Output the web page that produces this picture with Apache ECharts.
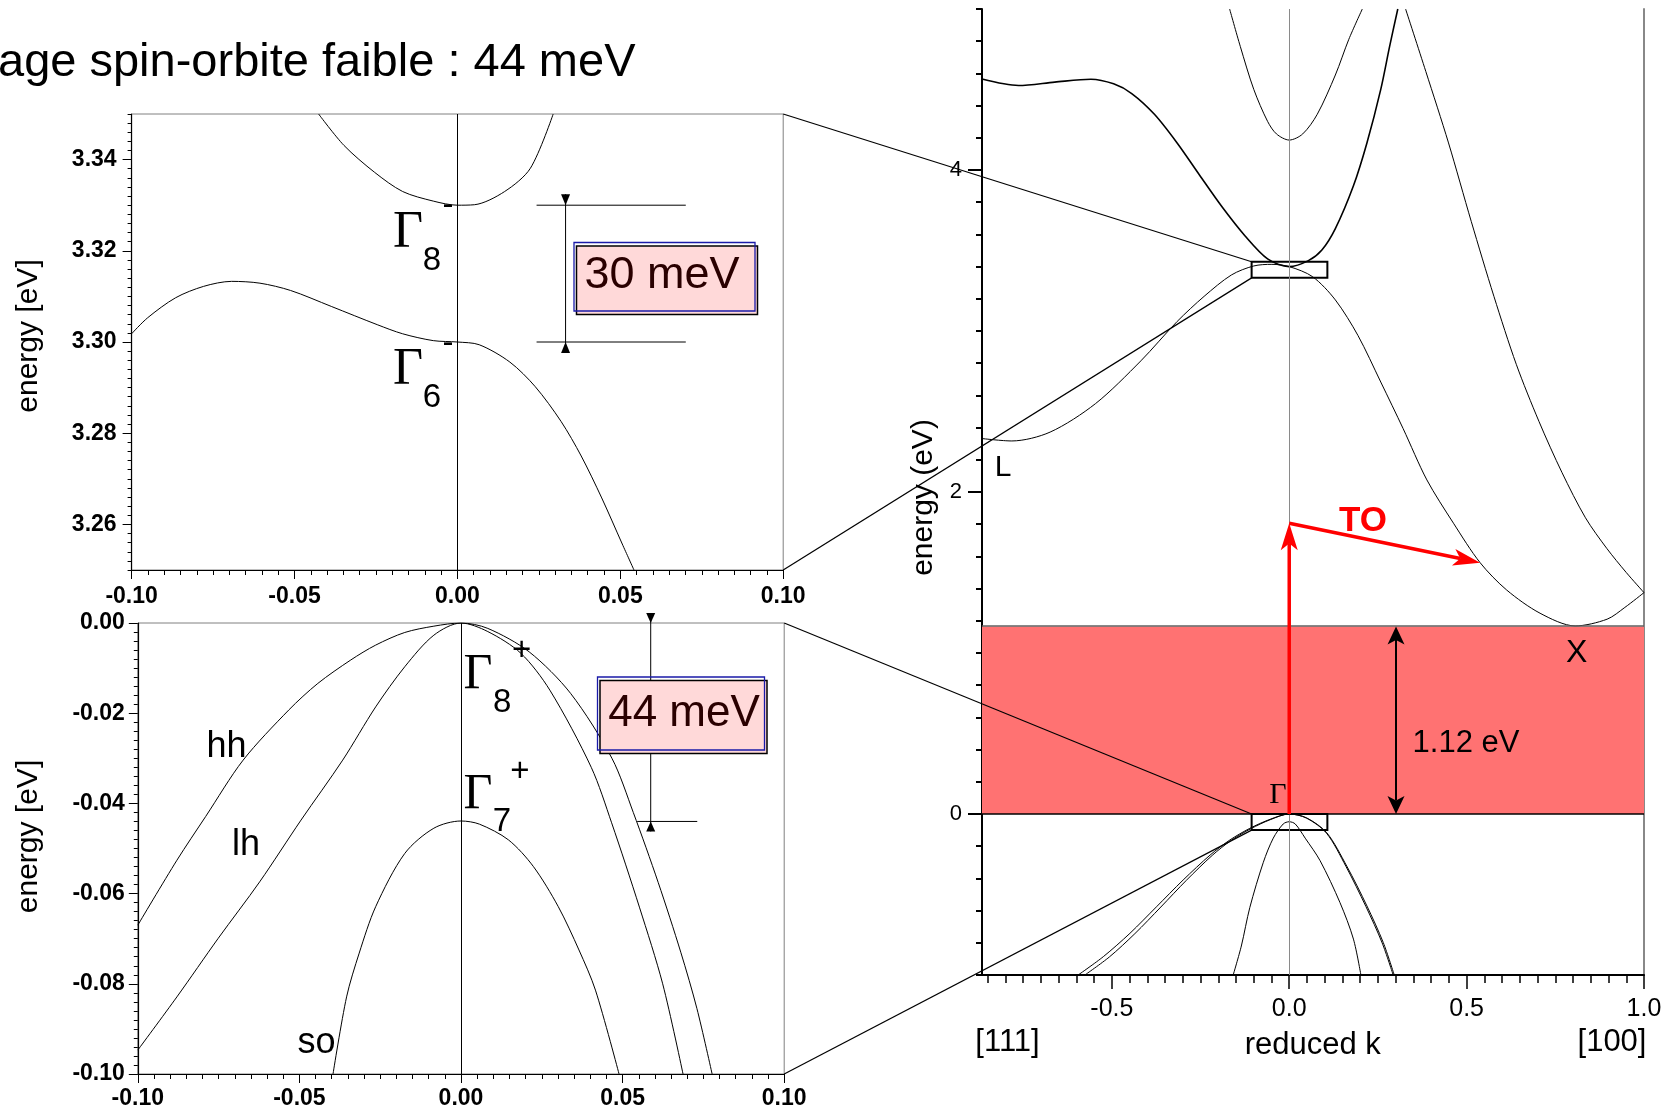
<!DOCTYPE html>
<html><head><meta charset="utf-8">
<script src="https://cdn.jsdelivr.net/npm/echarts@6/dist/echarts.min.js"></script>
<style>html,body{margin:0;padding:0;background:#fff}#c{width:1669px;height:1111px}</style>
</head><body><div id="c"></div>
<script>
// ================= DATA =================
// Top-left zoom: conduction band near Gamma (k in reduced units, E in eV)
const TL_K_G8 = [-0.0426,-0.0348,-0.0254,-0.0168,-0.0074,0,0.0052,0.0145,0.0224,0.0294];
const TL_E_G8 = [3.35,3.3431,3.3372,3.3330,3.3309,3.3300,3.3301,3.3330,3.3381,3.35];
const TL_K_G6 = [-0.1,-0.0951,-0.0865,-0.0779,-0.0693,-0.0606,-0.0512,-0.0387,-0.0246,-0.0168,-0.0074,0,0.0067,0.0161,0.0239,0.0318,0.0380,0.0443,0.0506,0.0542];
const TL_E_G6 = [3.3018,3.3053,3.3097,3.3122,3.3133,3.3129,3.3113,3.3078,3.3038,3.3018,3.3003,3.3000,3.2994,3.2956,3.2902,3.2826,3.2750,3.2658,3.2557,3.25];
const TL_Y_TICKS = [3.26,3.28,3.30,3.32,3.34];

// Bottom-left zoom: valence band near Gamma
const BL_K_HH = [-0.1,-0.0879,-0.0790,-0.0674,-0.0533,-0.0443,-0.0341,-0.0264,-0.0174,-0.0084,0,0.0083,0.0211,0.0339,0.0467,0.0533,0.0610,0.0680,0.0730,0.0777];
const BL_E_HH = [-0.0670,-0.0526,-0.0429,-0.0304,-0.0193,-0.0134,-0.0082,-0.0049,-0.0021,-0.0007,0,-0.0012,-0.0064,-0.0156,-0.0300,-0.0420,-0.0575,-0.0730,-0.0855,-0.1];
const BL_K_LH = [-0.1,-0.0879,-0.0751,-0.0623,-0.0495,-0.0366,-0.0264,-0.0174,-0.0084,0,0.0083,0.0185,0.0275,0.0403,0.0466,0.0552,0.0624,0.0687];
const BL_E_LH = [-0.0947,-0.0829,-0.0699,-0.0574,-0.0437,-0.0304,-0.0186,-0.0097,-0.0027,0,-0.0019,-0.0067,-0.0149,-0.0320,-0.0443,-0.0630,-0.0800,-0.1];
const BL_K_SO = [-0.0396,-0.0354,-0.0315,-0.0264,-0.0174,-0.0084,0,0.0057,0.0147,0.0224,0.0301,0.0365,0.0416,0.0489];
const BL_E_SO = [-0.1,-0.0829,-0.0732,-0.0629,-0.0511,-0.0455,-0.0439,-0.0446,-0.0481,-0.0540,-0.0629,-0.0725,-0.0814,-0.1];

// Right: full band structure of Si ([111] <- Gamma -> [100])
const R_K_A = [-0.866,-0.763,-0.661,-0.559,-0.495,-0.444,-0.380,-0.316,-0.253,-0.189,-0.125,-0.061,0,0.054,0.092,0.130,0.181,0.219,0.258,0.283,0.306];
const R_E_A = [4.565,4.525,4.546,4.564,4.535,4.475,4.346,4.168,3.969,3.770,3.592,3.448,3.400,3.437,3.503,3.636,3.902,4.168,4.501,4.768,5.0];
const R_K_B = [-0.168,-0.138,-0.100,-0.061,-0.036,0,0.038,0.079,0.130,0.168,0.206];
const R_E_B = [5.0,4.768,4.501,4.302,4.224,4.186,4.224,4.346,4.590,4.812,5.0];
const R_K_C = [-0.866,-0.782,-0.674,-0.546,-0.418,-0.316,-0.240,-0.163,-0.100,-0.049,0,0.066,0.130,0.194,0.258,0.321,0.388,0.463,0.538,0.613,0.707,0.806,0.896,0.946,1.0];
const R_E_C = [2.332,2.317,2.372,2.549,2.815,3.059,3.215,3.348,3.404,3.414,3.400,3.337,3.193,2.971,2.683,2.394,2.075,1.806,1.561,1.391,1.247,1.168,1.210,1.283,1.375];
const R_K_D = [0.328,0.385,0.449,0.513,0.577,0.640,0.704,0.769,0.835,0.895,0.950,1.0];
const R_E_D = [5.0,4.612,4.168,3.681,3.215,2.793,2.438,2.120,1.840,1.650,1.500,1.375];
const R_K_HH = [-0.595,-0.524,-0.449,-0.374,-0.299,-0.223,-0.167,-0.111,-0.054,0,0.049,0.106,0.162,0.219,0.265,0.296];
const R_E_HH = [-1.0,-0.886,-0.741,-0.576,-0.410,-0.255,-0.161,-0.089,-0.033,0,-0.024,-0.117,-0.323,-0.571,-0.798,-1.0];
const R_K_LH = [-0.576,-0.507,-0.435,-0.362,-0.290,-0.217,-0.163,-0.108,-0.052,0,0.048,0.105,0.160,0.216,0.262,0.293];
const R_E_LH = [-1.0,-0.888,-0.743,-0.578,-0.412,-0.257,-0.163,-0.091,-0.034,0,-0.025,-0.119,-0.326,-0.574,-0.801,-1.0];
const R_K_SO = [-0.158,-0.135,-0.111,-0.073,-0.045,-0.017,0,0.017,0.045,0.087,0.143,0.181,0.202];
const R_E_SO = [-1.0,-0.820,-0.580,-0.300,-0.150,-0.062,-0.048,-0.062,-0.150,-0.290,-0.550,-0.777,-1.0];
const R_X_TICKS = [-0.5,0,0.5,1.0];
const R_Y_TICKS = [0,2,4];

// Annotations (data units)
const GAP_TOP = 1.165;             // drawn top of gap band
const GAP_ARROW_K = 0.301;
const TO_K = [0,0,0.538];
const TO_E = [0,1.806,1.561];
const BOX_K = [-0.106,0.1075];
const BOX_CB = [3.33,3.43];
const BOX_VB = [-0.1,0];
const DIM30 = {k:0.0332, lo:3.30, hi:3.33, hk:[0.0243,0.0701]};
const DIM44 = {k:0.0587, lo:-0.044, hi:0, hk:[0.0545,0.0731]};

// ================= CHART =================
const FONT = "'Liberation Sans', Arial, sans-serif";
const SERIF = "'Liberation Serif', 'Times New Roman', serif";
const zip = (ks, es) => ks.map((k, i) => [k, es[i]]);
const fmt = d => v => (Math.abs(v) < 1e-9 ? 0 : v).toFixed(d);
const RK_MINOR = [];
for (let i = -17; i <= 20; i++) RK_MINOR.push(+(i * 0.05).toFixed(2));

function band(xi, yi, ks, es, w, extra) {
  return Object.assign({
    type: 'line', xAxisIndex: xi, yAxisIndex: yi, data: zip(ks, es),
    showSymbol: false, symbol: 'none', smooth: 0.3,
    lineStyle: {color: '#000', width: w || 1}, silent: true, z: 2, clip: true
  }, extra || {});
}
const vline = (color) => ({silent: true, symbol: 'none', label: {show: false}, emphasis: {disabled: true},
  lineStyle: {color: color, width: 1, type: 'solid'}, data: [{xAxis: 0}]});

const leftX = (gi, margin) => ({
  gridIndex: gi, type: 'value', min: -0.1, max: 0.1, interval: 0.05, position: 'bottom',
  axisLine: {show: true, onZero: false, lineStyle: {color: '#000', width: 1.2}},
  axisTick: {show: true, length: 9, lineStyle: {color: '#000'}},
  minorTick: {show: true, splitNumber: 10, length: 5, lineStyle: {color: '#000'}},
  axisLabel: {show: true, margin: margin, fontSize: 23, fontWeight: 'bold', color: '#000', fontFamily: FONT, formatter: fmt(2)},
  splitLine: {show: false}, minorSplitLine: {show: false}
});

const option = {
  animation: false,
  backgroundColor: '#fff',
  grid: [
    {left: 131.6, top: 114, width: 651.6, height: 456, show: true, borderColor: '#808080', borderWidth: 1, outerBoundsMode: 'none'},
    {left: 137.8, top: 623, width: 646.4, height: 451, show: true, borderColor: '#808080', borderWidth: 1, outerBoundsMode: 'none'},
    {left: 982, top: 9, width: 662, height: 966, outerBoundsMode: 'none'}
  ],
  xAxis: [
    leftX(0, 15),
    leftX(1, 13),
    {gridIndex: 2, type: 'value', min: -0.866, max: 1.0, position: 'bottom',
     axisLine: {show: true, onZero: false, lineStyle: {color: '#000', width: 2}},
     axisTick: {show: true, length: 14, customValues: R_X_TICKS, lineStyle: {color: '#000', width: 1.5}},
     axisLabel: {show: true, customValues: R_X_TICKS, margin: 22, fontSize: 25, color: '#000', fontFamily: FONT, formatter: fmt(1)},
     splitLine: {show: false}},
    {gridIndex: 2, type: 'value', min: -0.866, max: 1.0, position: 'bottom',
     axisLine: {show: false, onZero: false},
     axisTick: {show: true, length: 8, customValues: RK_MINOR, lineStyle: {color: '#000', width: 1.5}},
     axisLabel: {show: false}, splitLine: {show: false}}
  ],
  yAxis: [
    {gridIndex: 0, type: 'value', min: 3.25, max: 3.35, interval: 0.002, position: 'left',
     axisLine: {show: true, onZero: false, lineStyle: {color: '#000', width: 1.2}},
     axisTick: {show: true, length: 4, lineStyle: {color: '#000'}}, axisLabel: {show: false}, splitLine: {show: false}},
    {gridIndex: 0, type: 'value', min: 3.25, max: 3.35, position: 'left',
     axisLine: {show: false, onZero: false},
     axisTick: {show: true, length: 9, customValues: TL_Y_TICKS, lineStyle: {color: '#000'}},
     axisLabel: {show: true, customValues: TL_Y_TICKS, margin: 15, fontSize: 23, fontWeight: 'bold', color: '#000', fontFamily: FONT, formatter: fmt(2)},
     splitLine: {show: false}},
    {gridIndex: 1, type: 'value', min: -0.1, max: 0, interval: 0.02, position: 'left',
     axisLine: {show: true, onZero: false, lineStyle: {color: '#000', width: 1.2}},
     axisTick: {show: true, length: 9, lineStyle: {color: '#000'}},
     minorTick: {show: true, splitNumber: 10, length: 4, lineStyle: {color: '#000'}},
     axisLabel: {show: true, margin: 13, fontSize: 23, fontWeight: 'bold', color: '#000', fontFamily: FONT, formatter: fmt(2)},
     splitLine: {show: false}, minorSplitLine: {show: false}},
    {gridIndex: 2, type: 'value', min: -1, max: 5, interval: 0.2, position: 'left',
     axisLine: {show: true, onZero: false, lineStyle: {color: '#000', width: 2}},
     axisTick: {show: true, length: 6, lineStyle: {color: '#000', width: 2}}, axisLabel: {show: false}, splitLine: {show: false}},
    {gridIndex: 2, type: 'value', min: -1, max: 5, position: 'left',
     axisLine: {show: false, onZero: false},
     axisTick: {show: true, length: 14, customValues: R_Y_TICKS, lineStyle: {color: '#000', width: 2}},
     axisLabel: {show: true, customValues: R_Y_TICKS, margin: 20, fontSize: 22, color: '#000', fontFamily: FONT},
     splitLine: {show: false}},
    {gridIndex: 2, type: 'value', min: -1, max: 5, position: 'right',
     axisLine: {show: true, onZero: false, lineStyle: {color: '#888', width: 2}},
     axisTick: {show: false}, axisLabel: {show: false}, splitLine: {show: false}}
  ],
  series: [
    band(0, 0, TL_K_G8, TL_E_G8, 1, {markLine: vline('#000')}),          // 0
    band(0, 0, TL_K_G6, TL_E_G6, 1),                                     // 1
    band(1, 2, BL_K_HH, BL_E_HH, 1, {markLine: vline('#000')}),          // 2
    band(1, 2, BL_K_LH, BL_E_LH, 1),                                     // 3
    band(1, 2, BL_K_SO, BL_E_SO, 1),                                     // 4
    {type: 'line', xAxisIndex: 2, yAxisIndex: 3, data: [[0, 0]], showSymbol: false, symbol: 'none',
     lineStyle: {width: 0, opacity: 0}, silent: true, z: 1,
     markArea: {silent: true, label: {show: false}, emphasis: {disabled: true}, data: [
       [{xAxis: -0.866, yAxis: 0, itemStyle: {color: '#ff7272', opacity: 1, borderWidth: 0}}, {xAxis: 1.0, yAxis: GAP_TOP}],
       [{xAxis: BOX_K[0], yAxis: BOX_CB[0], itemStyle: {color: 'rgba(0,0,0,0)', borderColor: '#000', borderWidth: 2}}, {xAxis: BOX_K[1], yAxis: BOX_CB[1]}],
       [{xAxis: BOX_K[0], yAxis: BOX_VB[0], itemStyle: {color: 'rgba(0,0,0,0)', borderColor: '#000', borderWidth: 2}}, {xAxis: BOX_K[1], yAxis: BOX_VB[1]}]
     ]},
     markLine: {silent: true, symbol: 'none', label: {show: false}, emphasis: {disabled: true}, data: [
       {xAxis: 0, lineStyle: {color: '#8a8a8a', width: 1, type: 'solid'}},
       {yAxis: GAP_TOP, lineStyle: {color: '#606060', width: 1.5, type: 'solid'}},
       {yAxis: 0, lineStyle: {color: '#000', width: 1.5, type: 'solid'}}
     ]}},                                                                // 5
    band(2, 3, R_K_A, R_E_A, 1.6),
    band(2, 3, R_K_B, R_E_B, 1),
    band(2, 3, R_K_C, R_E_C, 1),
    band(2, 3, R_K_D, R_E_D, 1),
    band(2, 3, R_K_HH, R_E_HH, 1),
    band(2, 3, R_K_LH, R_E_LH, 1),
    band(2, 3, R_K_SO, R_E_SO, 1)
  ]
};

const chart = echarts.init(document.getElementById('c'), null, {renderer: 'canvas'});
chart.setOption(option);

// ================= OVERLAY (converted from data units) =================
const S_TL = 0, S_BL = 2, S_R = 5;
const P = (s, k, e) => chart.convertToPixel({seriesIndex: s}, [k, e]);
const G = [];
function seg(a, b, color, w, z) {
  G.push({type: 'line', z: z || 50, silent: true, shape: {x1: a[0], y1: a[1], x2: b[0], y2: b[1]}, style: {stroke: color, lineWidth: w}});
}
function poly(pts, color, z) {
  G.push({type: 'polygon', z: z || 60, silent: true, shape: {points: pts}, style: {fill: color}});
}
function arrowHead(from, tip, L, W, color) {
  const dx = tip[0] - from[0], dy = tip[1] - from[1], len = Math.hypot(dx, dy);
  const ux = dx / len, uy = dy / len, nx = -uy, ny = ux;
  const bx = tip[0] - ux * L, by = tip[1] - uy * L;
  const notch = [tip[0] - ux * L * 0.75, tip[1] - uy * L * 0.75];
  poly([tip, [bx + nx * W / 2, by + ny * W / 2], notch, [bx - nx * W / 2, by - ny * W / 2]], color, 61);
  return notch;
}
function arrow(a, b, color, w, L, W, both) {
  const end = arrowHead(a, b, L, W, color);
  const start = both ? arrowHead(b, a, L, W, color) : a;
  seg(start, end, color, w, 60);
}
function dimBar(s, d, T, W, hLines) {
  const a = P(s, d.k, d.hi), b = P(s, d.k, d.lo);
  seg([a[0], a[1] - T], [b[0], b[1] + T], '#000', 1);
  poly([[a[0] - W / 2, a[1] - T], [a[0] + W / 2, a[1] - T], [a[0], a[1]]], '#000');
  poly([[b[0] - W / 2, b[1] + T], [b[0] + W / 2, b[1] + T], [b[0], b[1]]], '#000');
  hLines.forEach(e => seg(P(s, d.hk[0], e), P(s, d.hk[1], e), '#000', 1));
}
function txt(text, x, y, size, o) {
  o = o || {};
  G.push({type: 'text', x: x, y: y, z: 80, silent: true, rotation: o.rot || 0,
    style: {text: text, fill: o.color || '#000', fontSize: size, fontFamily: o.family || FONT,
      fontWeight: o.weight || 'normal', align: o.align || 'center', verticalAlign: 'middle'}});
}
function box(x, y, w, h) {
  G.push({type: 'rect', z: 70, silent: true, shape: {x: x + 2.5, y: y + 3.5, width: w, height: h}, style: {fill: '#ffd9d9', stroke: '#000', lineWidth: 1.5}});
  G.push({type: 'rect', z: 71, silent: true, shape: {x: x, y: y, width: w, height: h}, style: {fill: 'none', stroke: '#1a1aa8', lineWidth: 1.3}});
}

// zoom connectors
seg(P(S_TL, 0.1, 3.35), P(S_R, BOX_K[0], BOX_CB[1]), '#000', 1.2, 90);
seg(P(S_TL, 0.1, 3.25), P(S_R, BOX_K[0], BOX_CB[0]), '#000', 1.2, 90);
seg(P(S_BL, 0.1, 0), P(S_R, BOX_K[0], BOX_VB[1]), '#000', 1.2, 90);
seg(P(S_BL, 0.1, -0.1), P(S_R, BOX_K[0], BOX_VB[0]), '#000', 1.2, 90);

// dimension bars
dimBar(S_TL, DIM30, 11, 9, [DIM30.lo, DIM30.hi]);
dimBar(S_BL, DIM44, 10, 9, [DIM44.lo]);

// arrows in the right panel
const pTO = TO_K.map((k, i) => P(S_R, k, TO_E[i]));
arrow(pTO[0], pTO[1], '#ff0000', 3.5, 27, 17);
arrow(pTO[1], pTO[2], '#ff0000', 3.5, 27, 17);
arrow(P(S_R, GAP_ARROW_K, 0), P(S_R, GAP_ARROW_K, GAP_TOP), '#000', 2, 18, 17, true);

// value boxes
box(574, 242.5, 181, 68.5);
txt('30 meV', 662, 276, 45, {color: '#2a0000'});
box(597.5, 677, 167, 73);
txt('44 meV', 684, 714, 44, {color: '#2a0000'});

// title
txt('age spin-orbite faible : 44 meV', -2, 63, 47, {align: 'left'});

// axis titles
txt('energy [eV]', 29, 336, 30, {rot: Math.PI / 2});
txt('energy [eV]', 28.5, 836.5, 30, {rot: Math.PI / 2});
txt('energy (eV)', 924, 497.5, 30, {rot: Math.PI / 2});
txt('reduced k', 1312.7, 1045.5, 31);
txt('[111]', 1007.5, 1042.5, 31);
txt('[100]', 1612, 1042.5, 31);

// symmetry labels (left panels)
txt('\u0393', 408, 233.5, 52, {family: SERIF});
txt('8', 432, 260.6, 33);
txt('-', 448, 206, 33);
txt('\u0393', 408, 370.3, 52, {family: SERIF});
txt('6', 432, 398.3, 33);
txt('-', 448, 344, 33);
txt('\u0393', 478, 675, 50, {family: SERIF});
txt('8', 502.3, 703.3, 33);
txt('+', 521.6, 651, 33);
txt('\u0393', 478, 795, 50, {family: SERIF});
txt('7', 502, 821.7, 33);
txt('+', 520, 771.5, 33);
txt('hh', 226.6, 747.5, 36);
txt('lh', 246, 845, 36);
txt('so', 316.4, 1043.5, 36);

// right panel labels
txt('L', 1003, 468, 30);
txt('X', 1576.7, 653, 32);
txt('\u0393', 1278, 795, 30, {family: SERIF});
txt('TO', 1363, 521, 35, {color: '#ff0000', weight: 'bold'});
txt('1.12 eV', 1466, 743, 31);

chart.setOption({graphic: {elements: G}});
</script>
</body></html>
